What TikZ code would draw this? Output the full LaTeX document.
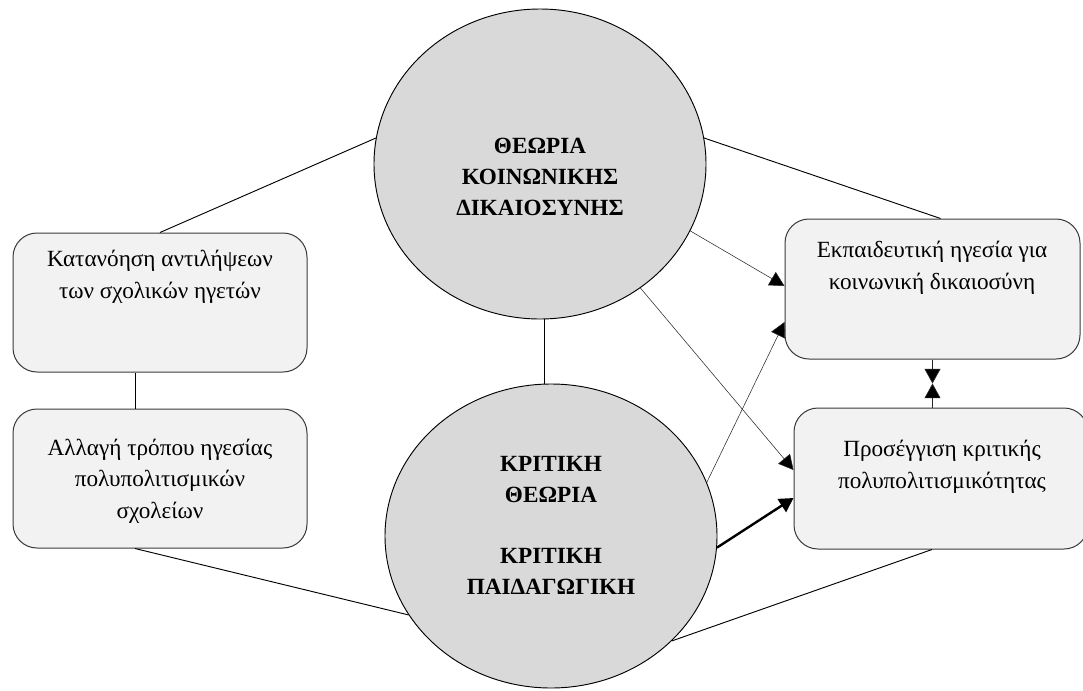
\documentclass[tikz,border=0pt]{standalone}
\usepackage{fontspec}
\setmainfont{Liberation Serif}
\usetikzlibrary{shapes.geometric,arrows.meta,calc}
\definecolor{circfill}{HTML}{D9D9D9}
\definecolor{boxfill}{HTML}{F2F2F2}
\definecolor{boxline}{HTML}{3A3A3A}
\begin{document}
\begin{tikzpicture}[x=0.75pt,y=-0.75pt,
  theory/.style={ellipse, draw=black, line width=0.7pt, fill=circfill, inner sep=0pt},
  themebox/.style={rectangle, rounded corners=18pt, draw=boxline, line width=0.75pt,
    fill=boxfill, inner sep=0pt},
  boxtext/.style={align=center, inner sep=0pt, font=\fontsize{17.4pt}{23.6pt}\selectfont},
  theorytext/.style={align=center, inner sep=0pt, font=\fontsize{17.4pt}{23.25pt}\selectfont\bfseries},
  link/.style={draw=black, line width=0.7pt},
  flow/.style={draw=black!85, line width=0.4pt, -{Triangle[length=11pt,width=11.5pt,fill=black]}},
  strongflow/.style={draw=black, line width=1.8pt, -{Triangle[length=10.5pt,width=11.5pt]}},
  meet/.style={draw=black!85, line width=0.5pt, -{Triangle[length=11pt,width=12pt,fill=black]}}
]
\useasboundingbox (0,0) rectangle (1083,690);

% the two theory circles
\node[theory, minimum width=249pt, minimum height=232.5pt] (top) at (540,164) {};
\node[theorytext] (toptxt) at (540,177) {ΘΕΩΡΙΑ\\ΚΟΙΝΩΝΙΚΗΣ\\ΔΙΚΑΙΟΣΥΝΗΣ};
\node[theory, minimum width=249pt, minimum height=228pt] (bot) at (551,536) {};
\node[theorytext] (bottxt1) at (551,480) {ΚΡΙΤΙΚΗ\\ΘΕΩΡΙΑ};
\node[theorytext] (bottxt2) at (551,571) {ΚΡΙΤΙΚΗ\\ΠΑΙΔΑΓΩΓΙΚΗ};

% left boxes
\node[themebox, minimum width=220.5pt, minimum height=104.25pt] (box1) at (160,302.5) {};
\node[boxtext] (box1txt) at (160,277) {Κατανόηση αντιλήψεων\\των σχολικών ηγετών};
\node[themebox, minimum width=220.5pt, minimum height=104.25pt] (box2) at (160,478.5) {};
\node[boxtext] (box2txt) at (160,481) {Αλλαγή τρόπου ηγεσίας\\πολυπολιτισμικών\\σχολείων};

% right boxes
\node[themebox, minimum width=221.25pt, minimum height=105pt] (box3) at (932.5,289) {};
\node[boxtext] (box3txt) at (932,268) {Εκπαιδευτική ηγεσία για\\κοινωνική δικαιοσύνη};
\node[themebox, minimum width=220.5pt, minimum height=105.75pt] (box4) at (941,478.5) {};
\node[boxtext] (box4txt) at (942,467) {Προσέγγιση κριτικής\\πολυπολιτισμικότητας};

% plain links
\draw[link] (top.171) -- (box1.north);
\draw[link] (top.9) -- ($(box3.north)+(8,0)$);
\draw[link] ($(box1.south)+(-25,0)$) -- ($(box2.north)+(-25,0)$);
\draw[link] ($(box2.south)+(-25,0)$) -- (bot.209);
\draw[link] ($(box4.south)+(-9,0)$) -- (bot.319.5);
\draw[link] ($(top.south)+(4,0)$) -- ($(bot.north)+(-7,0)$);

% arrows into the right boxes
\draw[flow] (top.-24) -- ($(box3.west)+(0,-3)$);
\draw[flow] (top.-51) -- ($(box4.west)+(0,-8.5)$);
\draw[flow] (bot.19) -- ($(box3.west)+(0,33)$);
\draw[strongflow] (bot.-4) -- ($(box4.west)+(0,19.5)$);

% two-way link between the right boxes
\coordinate (b4top) at ($(box4.north)+(-8.5,0)$);
\coordinate (mid) at ($(box3.south)!0.5!(b4top)$);
\draw[meet] (box3.south) -- (mid);
\draw[meet] (b4top) -- (mid);
\end{tikzpicture}
\end{document}
